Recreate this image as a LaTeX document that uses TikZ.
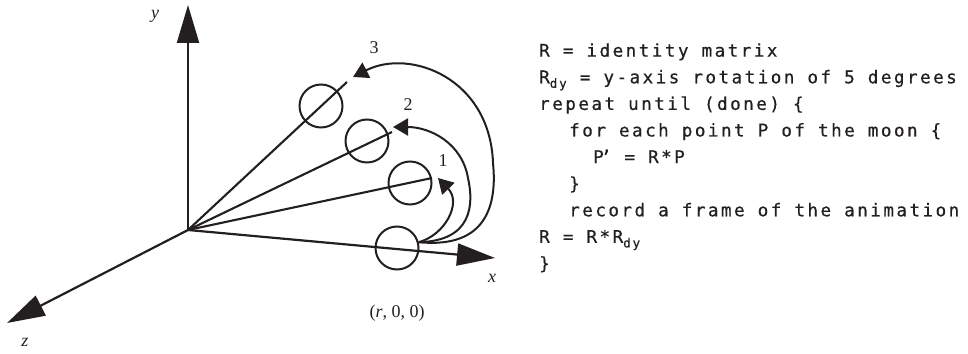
\documentclass[tikz,border=0pt]{standalone}
\usepackage{fontspec}
\setmainfont{Liberation Serif}
\newfontfamily\codefont[LetterSpace=14,FakeBold=0.6]{DejaVu Sans Mono}
\usetikzlibrary{arrows.meta}
\definecolor{ink}{RGB}{35,31,32}
\newcommand{\codesub}[1]{\raisebox{-4.5pt}{\fontsize{12.6}{12}\selectfont #1}}
\tikzset{
  axis/.style={-{Triangle[length=38pt,width=22pt]},draw=ink,line width=2.2pt},
  spoke/.style={draw=ink,line width=2.1pt},
  moon/.style={circle,draw=ink,line width=2pt,minimum size=43pt,inner sep=0pt},
  orbit/.style={-{Triangle[length=15pt,width=17pt]},draw=ink,line width=2pt},
  lbl/.style={text=ink,inner sep=0pt,font=\fontsize{18}{18}\selectfont},
  codeline/.style={anchor=base west,text=ink,inner sep=0pt,font=\codefont\fontsize{17.6}{20}\selectfont}
}
\begin{document}
\begin{tikzpicture}[x=1pt,y=1pt]
\useasboundingbox (0,0) rectangle (968,353);
% axes
\coordinate (O) at (188,123);
\coordinate (xend) at (495,95);
\coordinate (yend) at (188,348);
\coordinate (zend) at (7,30);
\draw[axis] (O) -- (yend);
\draw[axis] (O) -- (xend);
\draw[axis] (O) -- (zend);
\node[lbl] (ylab) at (155,337) {\textit{y}};
\node[lbl] (xlab) at (492,75) {\textit{x}};
\node[lbl] (zlab) at (25,11) {\textit{z}};
\node[lbl] (rlab) at (397,40) {(\textit{r}, 0, 0)};
% spokes and moon positions
\coordinate (r1) at (432,175);
\coordinate (r2) at (392,221);
\coordinate (r3) at (347,271);
\draw[spoke] (O) -- (r1);
\draw[spoke] (O) -- (r2);
\draw[spoke] (O) -- (r3);
\node[moon] (m0) at (397,105) {};
\node[moon] (m1) at (410,170) {};
\node[moon] (m2) at (367,212) {};
\node[moon] (m3) at (321,247) {};
% rotation arrows
\coordinate (s) at (m0.15);
\coordinate (t1) at (438,175);
\coordinate (t2) at (393,226);
\coordinate (t3) at (353,276);
\draw[orbit] (s) .. controls (445,118) and (462,150) .. (t1);
\draw[orbit] (s) .. controls (472,112) and (474,148) .. (468,175)
  .. controls (462,210) and (430,226) .. (t2);
\draw[orbit] (s) .. controls (488,104) and (497,150) .. (493,190)
  .. controls (490,275) and (410,305) .. (t3);
\node[lbl] (n1) at (443,192) {1};
\node[lbl] (n2) at (408,248) {2};
\node[lbl] (n3) at (374,305) {3};
% pseudocode
\node[codeline] (code1) at (539,296.3) {R = identity matrix};
\node[codeline] (code2) at (539,269.7) {R\codesub{dy} = y-axis rotation of 5 degrees};
\node[codeline] (code3) at (539,243.1) {repeat until (done) \{};
\node[codeline] (code4) at (569,216.5) {for each point P of the moon \{};
\node[codeline] (code5) at (593,189.9) {P\kern-3pt’ = R*P};
\node[codeline] (code6) at (569,163.3) {\}};
\node[codeline] (code7) at (569,136.7) {record a frame of the animation};
\node[codeline] (code8) at (539,110.1) {R = R*R\codesub{dy}};
\node[codeline] (code9) at (539,83.5) {\}};
\end{tikzpicture}
\end{document}
